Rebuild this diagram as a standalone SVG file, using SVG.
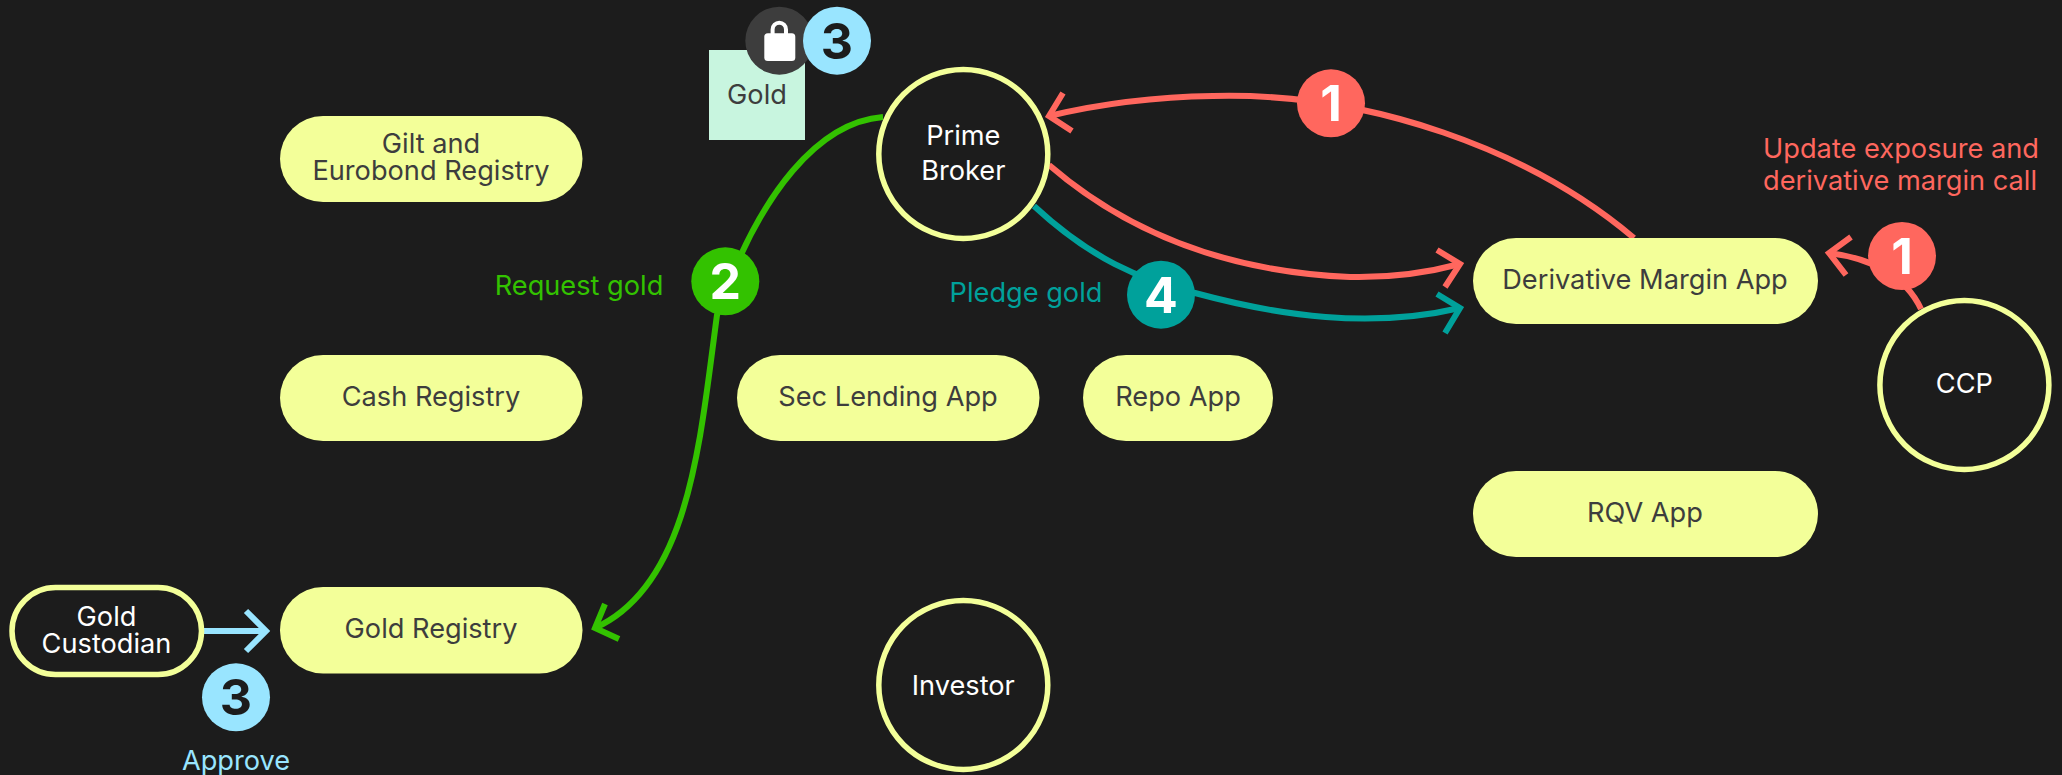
<svg xmlns="http://www.w3.org/2000/svg" width="2062" height="775" viewBox="0 0 2062 775">
<defs><style>
text{font-family:Inter,"Noto Sans","Liberation Sans",sans-serif;font-size:27.200px;text-anchor:middle}
.pill{fill:#f3ff99}
.pt{fill:#3d3d3d}
.ring{fill:#1c1c1c;stroke:#f3ff99;stroke-width:5.5}
.wt{fill:#ffffff}
.conn{fill:none;stroke-width:6}
.red{stroke:#ff675e}.grn{stroke:#33c200}.tea{stroke:#00a19b}.blu{stroke:#99e5ff}
.bn{font-size:50px;font-weight:700}
</style></defs>
<rect width="2062" height="775" fill="#1c1c1c"/>
<g id="connectors" class="conn">
<path class="red" d="M1634 238C1530 150 1370 92 1213 96C1150 97 1095 105 1049 116"/>
<path class="red" d="M1063 93L1049 116L1072 131"/>
<path class="red" d="M1049 165C1130 235 1230 272 1350 277C1395 278 1430 272 1460 264"/>
<path class="red" d="M1437 250L1460 264L1445 287"/>
<path class="tea" d="M1034 206C1090 258 1140 280 1195 293C1280 316 1370 329 1460 308"/>
<path class="tea" d="M1437 294L1460 308L1445 333"/>
<path class="grn" d="M883 117C820 122 760 190 717 315C700 440 690 585 595 628"/>
<path class="grn" d="M605 604L595 628L619 639"/>
<path class="blu" d="M204 631H266"/>
<path class="blu" d="M246 611L266 631L246 651"/>
<path class="red" d="M1921 309C1905 275 1870 258 1829 253"/>
<path class="red" d="M1851 237L1829 253L1846 275"/>
</g>
<g id="gilt"><rect class="pill" x="280" y="116" width="302.500" height="86" rx="43"/><text class="pt" x="431" y="153">Gilt and</text><text class="pt" x="431" y="180">Eurobond Registry</text></g>
<g id="cash"><rect class="pill" x="280" y="355" width="302.500" height="86" rx="43"/><text class="pt" x="431" y="405.500">Cash Registry</text></g>
<g id="goldreg"><rect class="pill" x="280" y="587" width="302.500" height="86.500" rx="43"/><text class="pt" x="431" y="637.500">Gold Registry</text></g>
<g id="custodian"><rect class="ring" x="12" y="587.500" width="189.500" height="87" rx="43.500"/><text class="wt" x="106.500" y="625.500">Gold</text><text class="wt" x="106.500" y="652.500">Custodian</text></g>
<g id="seclending"><rect class="pill" x="737" y="355" width="302.500" height="86" rx="43"/><text class="pt" x="888" y="405.500">Sec Lending App</text></g>
<g id="repo"><rect class="pill" x="1083" y="355" width="190" height="86" rx="43"/><text class="pt" x="1178" y="405.500">Repo App</text></g>
<g id="derivative"><rect class="pill" x="1473" y="238" width="345" height="86" rx="43"/><text class="pt" x="1645" y="288.500">Derivative Margin App</text></g>
<g id="rqv"><rect class="pill" x="1473" y="471" width="345" height="86" rx="43"/><text class="pt" x="1645" y="521.500">RQV App</text></g>
<g id="gold"><rect x="709" y="50" width="96" height="90" fill="#c8f5df"/><text class="pt" x="757" y="104">Gold</text></g>
<g id="prime"><circle class="ring" cx="963.300" cy="154" r="84.500"/><text class="wt" x="963.300" y="144.500">Prime</text><text class="wt" x="963.300" y="179.500">Broker</text></g>
<g id="investor"><circle class="ring" cx="963.300" cy="685" r="84.500"/><text class="wt" x="963.300" y="695">Investor</text></g>
<g id="ccp"><circle class="ring" cx="1964.400" cy="385" r="84.500"/><text class="wt" x="1964.400" y="393">CCP</text></g>
<g id="lock"><circle cx="779.300" cy="40.700" r="34" fill="#3d3d3d"/><path d="M772.600 36V29.400A6.700 6.700 0 0 1 786 29.400V36" fill="none" stroke="#fff" stroke-width="4"/><rect x="764.300" y="33.300" width="31" height="27.700" rx="3.500" fill="#fff"/></g>
<g id="b3a"><circle cx="837" cy="40.700" r="34" fill="#99e5ff"/><text class="bn" x="837" y="58.500" fill="#1c1c1c">3</text></g>
<g id="b1a"><circle cx="1331" cy="103.300" r="34" fill="#ff675e"/><text class="bn" x="1331" y="121" fill="#fff">1</text></g>
<g id="b1b"><circle cx="1902" cy="256" r="34" fill="#ff675e"/><text class="bn" x="1902" y="274" fill="#fff">1</text></g>
<g id="b2"><circle cx="725.300" cy="281.300" r="34" fill="#33c200"/><text class="bn" x="725.300" y="299" fill="#fff">2</text></g>
<g id="b4"><circle cx="1161" cy="294.700" r="34" fill="#00a19b"/><text class="bn" x="1161" y="312.500" fill="#fff">4</text></g>
<g id="b3b"><circle cx="236" cy="697.300" r="34" fill="#99e5ff"/><text class="bn" x="236" y="715" fill="#1c1c1c">3</text></g>
<g id="labels">
<text x="579" y="295" fill="#33c200">Request gold</text>
<text x="1026" y="302" fill="#00a19b">Pledge gold</text>
<text x="236" y="769.500" fill="#99e5ff">Approve</text>
<text x="1763" y="158.300" fill="#ff675e" style="text-anchor:start" textLength="276" lengthAdjust="spacingAndGlyphs">Update exposure and</text>
<text x="1763" y="190" fill="#ff675e" style="text-anchor:start" textLength="274" lengthAdjust="spacingAndGlyphs">derivative margin call</text>
</g>
</svg>
